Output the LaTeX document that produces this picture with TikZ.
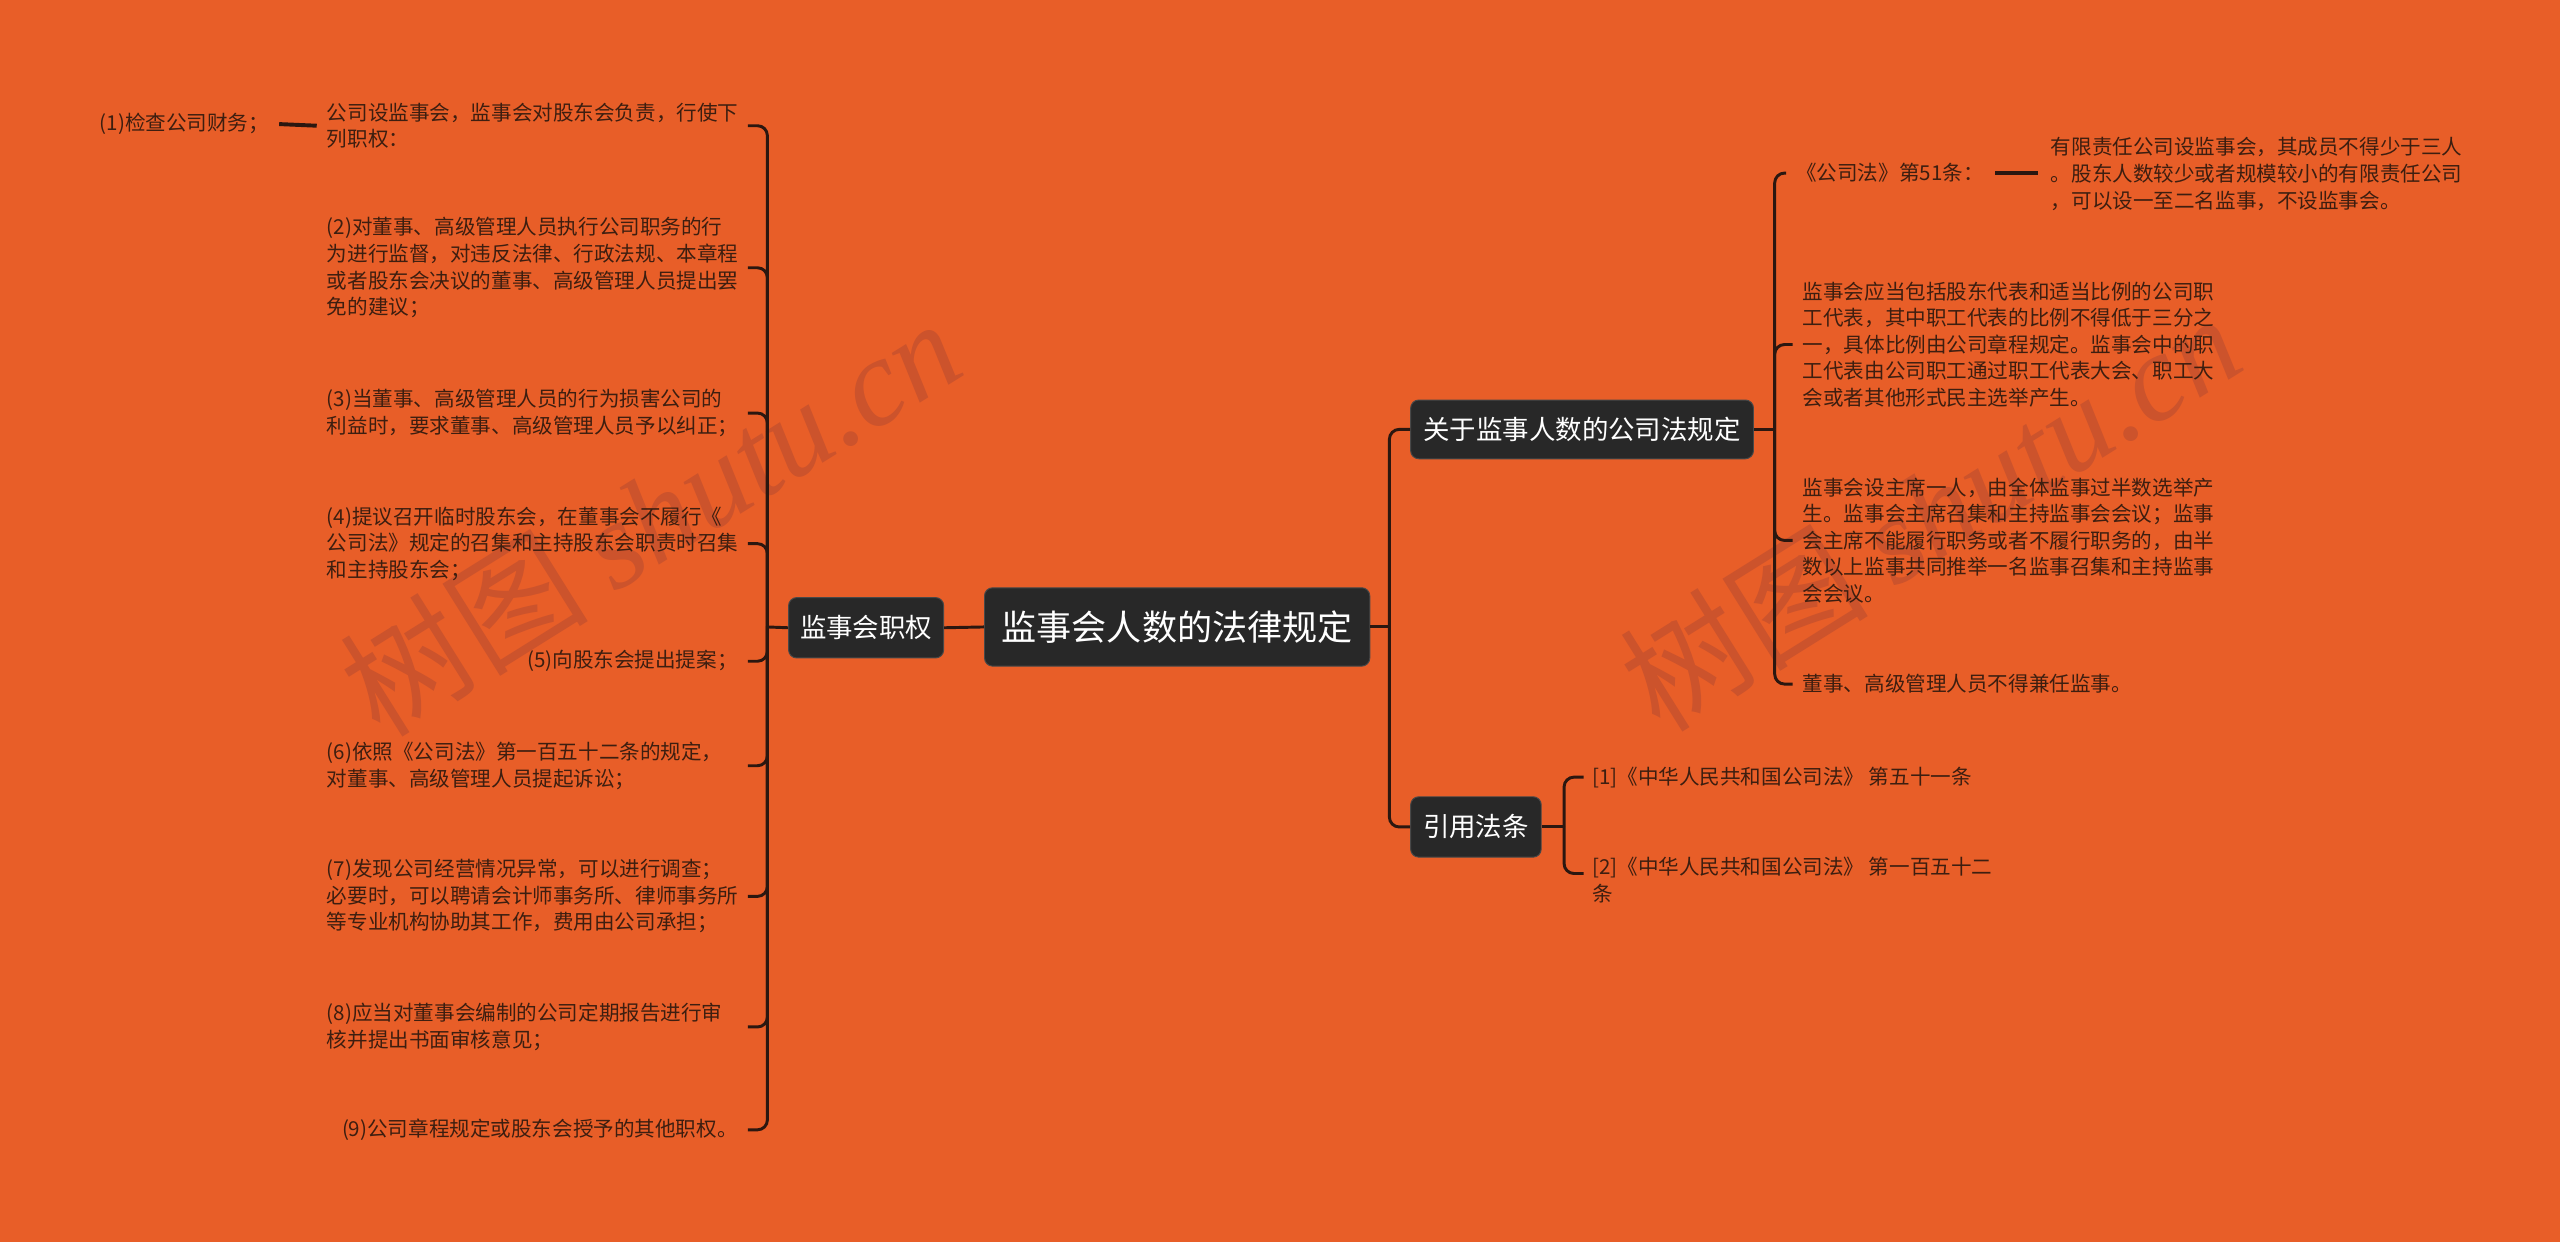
\documentclass[tikz,border=0pt]{standalone}
\usepackage{fontspec}
\setmainfont{Noto Sans CJK SC}
\newfontfamily\wmserif{Liberation Serif}
\usetikzlibrary{calc}
\definecolor{bg}{HTML}{E85E28}
\definecolor{txt}{HTML}{3D1E10}
\definecolor{ln}{HTML}{2B1710}
\definecolor{boxc}{HTML}{282828}
\definecolor{wmc}{HTML}{CC532C}
\begin{document}
\begin{tikzpicture}[x=1pt,y=-1pt,
  conn/.style={draw=ln,line width=1.8pt,rounded corners=6pt},
  dashln/.style={draw=ln,line width=2.4pt},
  box/.style={fill=boxc,draw=boxc!85!white,line width=0.6pt,rounded corners=5pt,text=white,inner sep=0pt,align=center},
  midbox/.style={box,minimum height=37pt,font=\fontsize{16.2}{18}\selectfont},
  leaf/.style={text=txt,inner sep=0pt,align=left,font=\fontsize{12.6}{16.3}\selectfont},
  wmark/.style={text=wmc,inner sep=0pt,font=\fontsize{76}{76}\selectfont,rotate=32}]
\useasboundingbox (0,0) rectangle (1568,761);
\fill[bg] (0,0) rectangle (1568,761);
% watermarks
\node[wmark] (wm1) at (398,316) {树图 {\wmserif\itshape shutu.cn}};
\node[wmark] (wm2) at (1182,313) {树图 {\wmserif\itshape shutu.cn}};
% main nodes
\node[box,minimum width=236pt,minimum height=48pt,font=\fontsize{21.5}{24}\selectfont] (root) at (721,384) {监事会人数的法律规定};
\node[midbox,minimum width=95pt] (lsm) at (530.5,384.5) {监事会职权};
\node[midbox,minimum width=210pt,minimum height=36pt] (g1) at (969,263) {关于监事人数的公司法规定};
\node[midbox,minimum width=80pt] (g2) at (904,506.5) {引用法条};
\coordinate (lbk) at (470,384);
\coordinate (lend) at (458,384);
\coordinate (rbk) at (851,384);
\coordinate (gb1) at (1087,263);
\coordinate (gb2) at (958,506.5);
% left leaves
\node[leaf,anchor=west] (c0) at (200,77) {公司设监事会，监事会对股东会负责，行使下\\列职权：};
\node[leaf,anchor=east] (n1) at (165,76) {(1)检查公司财务；};
\node[leaf,anchor=west] (c1) at (200,164) {(2)对董事、高级管理人员执行公司职务的行\\为进行监督，对违反法律、行政法规、本章程\\或者股东会决议的董事、高级管理人员提出罢\\免的建议；};
\node[leaf,anchor=west] (c2) at (200,253) {(3)当董事、高级管理人员的行为损害公司的\\利益时，要求董事、高级管理人员予以纠正；};
\node[leaf,anchor=west] (c3) at (200,333) {(4)提议召开临时股东会，在董事会不履行《\\公司法》规定的召集和主持股东会职责时召集\\和主持股东会；};
\node[leaf,anchor=east] (c4) at (452,405) {(5)向股东会提出提案；};
\node[leaf,anchor=west] (c5) at (200,469) {(6)依照《公司法》第一百五十二条的规定，\\对董事、高级管理人员提起诉讼；};
\node[leaf,anchor=west] (c6) at (200,549) {(7)发现公司经营情况异常，可以进行调查；\\必要时，可以聘请会计师事务所、律师事务所\\等专业机构协助其工作，费用由公司承担；};
\node[leaf,anchor=west] (c7) at (200,629) {(8)应当对董事会编制的公司定期报告进行审\\核并提出书面审核意见；};
\node[leaf,anchor=east] (c8) at (452,692) {(9)公司章程规定或股东会授予的其他职权。};
% right leaves
\node[leaf,anchor=west] (r0) at (1100,106) {《公司法》第51条：};
\node[leaf,anchor=west] (r0a) at (1256,106.5) {有限责任公司设监事会，其成员不得少于三人\\。股东人数较少或者规模较小的有限责任公司\\，可以设一至二名监事，不设监事会。};
\node[leaf,anchor=west] (r1) at (1104,211) {监事会应当包括股东代表和适当比例的公司职\\工代表，其中职工代表的比例不得低于三分之\\一，具体比例由公司章程规定。监事会中的职\\工代表由公司职工通过职工代表大会、职工大\\会或者其他形式民主选举产生。};
\node[leaf,anchor=west] (r2) at (1104,331) {监事会设主席一人，由全体监事过半数选举产\\生。监事会主席召集和主持监事会会议；监事\\会主席不能履行职务或者不履行职务的，由半\\数以上监事共同推举一名监事召集和主持监事\\会会议。};
\node[leaf,anchor=west] (r3) at (1104,419) {董事、高级管理人员不得兼任监事。};
\node[leaf,anchor=west] (t1) at (975,476) {[1]《中华人民共和国公司法》 第五十一条};
\node[leaf,anchor=west] (t2) at (975,539) {[2]《中华人民共和国公司法》 第一百五十二\\条};
% connectors left
\draw[conn] (root.west) -- (lsm.east);
\draw[conn] (lsm.west) -- (lbk);
\foreach \c in {c0,c1,c2,c3,c4,c5,c6,c7,c8}{
  \draw[conn] (lbk) |- (\c.center -| lend);
}
\draw[dashln] ($(n1.east)+(6,0)$) -- ($(c0.west)+(-6,0)$);
% connectors right
\draw[conn] (root.east) -- (rbk);
\draw[conn] (rbk) |- (g1.west);
\draw[conn] (rbk) |- (g2.west);
\draw[conn] (g1.east) -- (gb1);
\draw[conn] (gb1) |- ($(r0.west)+(-6,0)$);
\foreach \r in {r1,r2,r3}{
  \draw[conn] (gb1) |- ($(\r.west)+(-6,0)$);
}
\draw[dashln] ($(r0.east)+(7,0)$) -- ($(r0a.west)+(-8,-0.5)$);
\draw[conn] (g2.east) -- (gb2);
\draw[conn] (gb2) |- ($(t1.west)+(-5,0)$);
\draw[conn] (gb2) |- ($(t2.west)+(-5,-4)$);
\end{tikzpicture}
\end{document}
